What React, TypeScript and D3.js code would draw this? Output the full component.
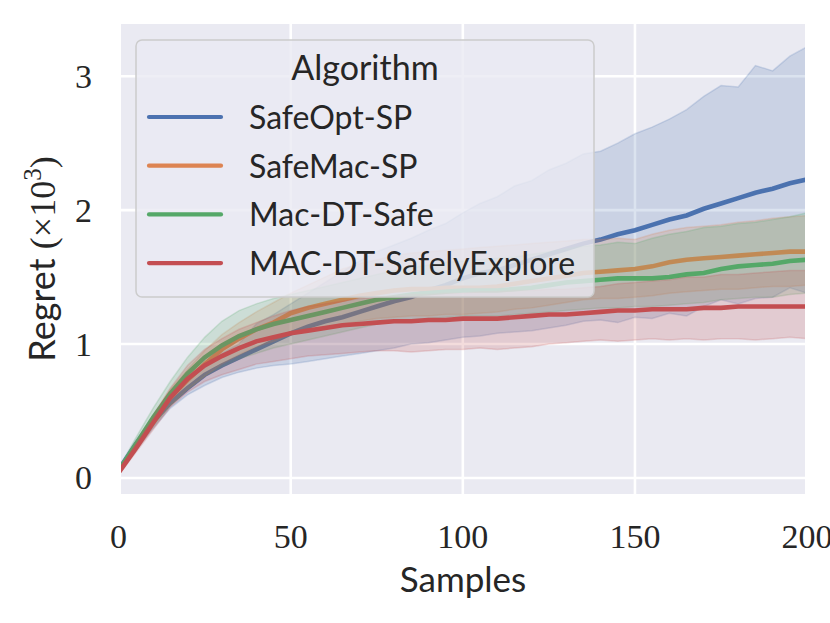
import React from "react";
import * as d3 from "d3";

// samples 0..200 in steps of 5
const samples = d3.range(0, 201, 5);

const algorithms = ["SafeOpt-SP", "SafeMac-SP", "Mac-DT-Safe", "MAC-DT-SafelyExplore"];
const colors = ["#4C72B0", "#DD8452", "#55A868", "#C44E52"];

// regret (x10^3), mean and confidence band per algorithm
const safeOptMean = [0.06, 0.25, 0.42, 0.56, 0.67, 0.77, 0.84, 0.9, 0.96, 1.02, 1.08, 1.13, 1.17, 1.2, 1.24, 1.28, 1.32, 1.35, 1.4, 1.44, 1.49, 1.53, 1.55, 1.59, 1.63, 1.67, 1.71, 1.75, 1.78, 1.82, 1.85, 1.89, 1.93, 1.96, 2.01, 2.05, 2.09, 2.13, 2.16, 2.2, 2.23];
const safeOptLow = [0.04, 0.21, 0.37, 0.52, 0.62, 0.69, 0.75, 0.79, 0.82, 0.84, 0.85, 0.87, 0.89, 0.91, 0.93, 0.95, 0.97, 1.0, 1.01, 1.03, 1.05, 1.06, 1.08, 1.09, 1.1, 1.12, 1.14, 1.17, 1.18, 1.16, 1.2, 1.19, 1.23, 1.21, 1.28, 1.33, 1.3, 1.34, 1.35, 1.42, 1.38];
const safeOptHigh = [0.08, 0.28, 0.46, 0.62, 0.74, 0.85, 0.93, 1.0, 1.15, 1.22, 1.3, 1.38, 1.46, 1.54, 1.62, 1.69, 1.74, 1.79, 1.85, 1.9, 1.98, 2.05, 2.1, 2.18, 2.22, 2.3, 2.35, 2.42, 2.44, 2.5, 2.57, 2.62, 2.68, 2.75, 2.85, 2.93, 2.92, 3.08, 3.04, 3.15, 3.22];

const safeMacMean = [0.05, 0.24, 0.43, 0.6, 0.73, 0.85, 0.96, 1.04, 1.11, 1.16, 1.23, 1.27, 1.3, 1.33, 1.36, 1.38, 1.4, 1.41, 1.41, 1.42, 1.42, 1.42, 1.43, 1.45, 1.47, 1.49, 1.51, 1.53, 1.54, 1.55, 1.56, 1.58, 1.61, 1.63, 1.64, 1.65, 1.66, 1.67, 1.68, 1.69, 1.69];
const safeMacLow = [0.03, 0.21, 0.39, 0.54, 0.66, 0.76, 0.85, 0.92, 0.98, 1.02, 1.07, 1.1, 1.13, 1.15, 1.17, 1.19, 1.2, 1.21, 1.21, 1.22, 1.22, 1.23, 1.24, 1.26, 1.27, 1.29, 1.31, 1.33, 1.34, 1.34, 1.35, 1.36, 1.38, 1.39, 1.4, 1.41, 1.41, 1.42, 1.43, 1.43, 1.44];
const safeMacHigh = [0.07, 0.27, 0.47, 0.66, 0.81, 0.95, 1.07, 1.16, 1.24, 1.31, 1.38, 1.44, 1.5, 1.56, 1.6, 1.63, 1.66, 1.68, 1.69, 1.7, 1.71, 1.72, 1.73, 1.74, 1.75, 1.76, 1.77, 1.78, 1.78, 1.79, 1.78, 1.82, 1.85, 1.87, 1.88, 1.89, 1.91, 1.92, 1.94, 1.95, 1.96];

const macDtMean = [0.05, 0.25, 0.45, 0.63, 0.78, 0.9, 0.99, 1.06, 1.11, 1.15, 1.18, 1.21, 1.24, 1.27, 1.3, 1.33, 1.35, 1.37, 1.38, 1.39, 1.4, 1.4, 1.4, 1.41, 1.42, 1.44, 1.46, 1.47, 1.48, 1.49, 1.49, 1.49, 1.5, 1.52, 1.53, 1.56, 1.58, 1.59, 1.6, 1.62, 1.63];
const macDtLow = [0.03, 0.2, 0.38, 0.54, 0.66, 0.76, 0.83, 0.89, 0.93, 0.97, 1.0, 1.03, 1.06, 1.09, 1.12, 1.15, 1.17, 1.18, 1.19, 1.2, 1.21, 1.21, 1.21, 1.22, 1.23, 1.24, 1.25, 1.26, 1.27, 1.27, 1.28, 1.28, 1.29, 1.3, 1.31, 1.33, 1.34, 1.35, 1.35, 1.37, 1.38];
const macDtHigh = [0.07, 0.3, 0.52, 0.72, 0.9, 1.05, 1.17, 1.25, 1.3, 1.34, 1.37, 1.4, 1.43, 1.46, 1.49, 1.52, 1.55, 1.57, 1.59, 1.61, 1.62, 1.63, 1.64, 1.65, 1.67, 1.69, 1.71, 1.73, 1.74, 1.76, 1.75, 1.79, 1.82, 1.84, 1.87, 1.88, 1.9, 1.91, 1.93, 1.95, 1.98];

const macExploreMean = [0.04, 0.22, 0.41, 0.6, 0.74, 0.84, 0.91, 0.97, 1.02, 1.05, 1.08, 1.1, 1.12, 1.14, 1.15, 1.16, 1.17, 1.17, 1.18, 1.18, 1.19, 1.19, 1.19, 1.2, 1.21, 1.22, 1.22, 1.23, 1.24, 1.25, 1.25, 1.26, 1.26, 1.26, 1.27, 1.27, 1.28, 1.28, 1.28, 1.28, 1.28];
const macExploreLow = [0.02, 0.19, 0.36, 0.53, 0.64, 0.72, 0.77, 0.81, 0.85, 0.87, 0.89, 0.91, 0.92, 0.93, 0.94, 0.95, 0.95, 0.94, 0.95, 0.96, 0.96, 0.97, 0.96, 0.97, 0.98, 1.0, 1.01, 1.02, 1.03, 1.02, 1.03, 1.04, 1.03, 1.04, 1.03, 1.04, 1.04, 1.03, 1.04, 1.05, 1.04];
const macExploreHigh = [0.06, 0.26, 0.46, 0.67, 0.84, 0.96, 1.04, 1.11, 1.16, 1.21, 1.25, 1.28, 1.3, 1.32, 1.34, 1.35, 1.36, 1.37, 1.37, 1.38, 1.38, 1.39, 1.39, 1.4, 1.4, 1.41, 1.41, 1.42, 1.43, 1.45, 1.46, 1.47, 1.48, 1.5, 1.5, 1.52, 1.52, 1.53, 1.54, 1.55, 1.55];

const means = [safeOptMean, safeMacMean, macDtMean, macExploreMean];
const lows = [safeOptLow, safeMacLow, macDtLow, macExploreLow];
const highs = [safeOptHigh, safeMacHigh, macDtHigh, macExploreHigh];

const xTicks = [0, 50, 100, 150, 200];
const yTicks = [0, 1, 2, 3];

const WIDTH = 830;
const HEIGHT = 623;
const PLOT = { left: 121, right: 805, top: 24, bottom: 494 };

const SANS = "Lato, 'Liberation Sans', sans-serif";
const SERIF = "'Liberation Serif', 'DejaVu Serif', serif";

const App = () => {
  const x = d3.scaleLinear().domain([0.7, 199.4]).range([PLOT.left, PLOT.right]);
  const y = d3.scaleLinear().domain([-0.12, 3.39]).range([PLOT.bottom, PLOT.top]);

  const line = d3
    .line<number>()
    .x((_, i) => x(samples[i]))
    .y((d) => y(d));

  const band = (lo: number[], hi: number[]) =>
    d3
      .area<number>()
      .x((_, i) => x(samples[i]))
      .y0((_, i) => y(lo[i]))
      .y1((_, i) => y(hi[i]))(samples);

  const legend = { x: 136, y: 40, w: 458, h: 257 };

  return (
    <svg width={WIDTH} height={HEIGHT} style={{ position: "absolute", left: 0, top: 0, background: "white" }}>
      <defs>
        <clipPath id="plot-clip">
          <rect x={PLOT.left} y={PLOT.top} width={PLOT.right - PLOT.left} height={PLOT.bottom - PLOT.top} />
        </clipPath>
      </defs>
      <rect x={PLOT.left} y={PLOT.top} width={PLOT.right - PLOT.left} height={PLOT.bottom - PLOT.top} fill="#EAEAF2" />

      {/* grid */}
      <g clipPath="url(#plot-clip)">
        {xTicks.map((t) => (
          <line key={"gx" + t} x1={x(t)} x2={x(t)} y1={PLOT.top} y2={PLOT.bottom} stroke="white" strokeWidth={2.6} />
        ))}
        {yTicks.map((t) => (
          <line key={"gy" + t} x1={PLOT.left} x2={PLOT.right} y1={y(t)} y2={y(t)} stroke="white" strokeWidth={2.6} />
        ))}
      </g>

      {/* lines and bands, seaborn order: line then its band */}
      <g clipPath="url(#plot-clip)">
        {algorithms.map((name, k) => (
          <g key={name}>
            <path d={line(means[k]) ?? ""} fill="none" stroke={colors[k]} strokeWidth={4.6} />
            <path
              d={band(lows[k], highs[k]) ?? ""}
              fill={colors[k]}
              fillOpacity={0.2}
              stroke={colors[k]}
              strokeOpacity={0.2}
              strokeWidth={1.5}
            />
          </g>
        ))}
      </g>

      {/* tick labels */}
      {xTicks.map((t) => (
        <text key={"tx" + t} x={x(t)} y={548} textAnchor="middle" fontFamily={SERIF} fontSize={34} fill="#262626">
          {t}
        </text>
      ))}
      {yTicks.map((t) => (
        <text key={"ty" + t} x={92} y={y(t)} dy="0.34em" textAnchor="end" fontFamily={SERIF} fontSize={34} fill="#262626">
          {t}
        </text>
      ))}

      {/* axis labels */}
      <text x={463} y={592} textAnchor="middle" fontFamily={SANS} fontSize={35} fill="#262626">
        Samples
      </text>
      <text transform="translate(55,259) rotate(-90)" textAnchor="middle" fontSize={36} fill="#262626">
        <tspan fontFamily={SANS}>Regret </tspan>
        <tspan fontFamily={SERIF}>(×10</tspan>
        <tspan fontFamily={SERIF} fontSize={25} dy={-14}>3</tspan>
        <tspan fontFamily={SERIF} dy={14}>)</tspan>
      </text>

      {/* legend */}
      <rect
        x={legend.x}
        y={legend.y}
        width={legend.w}
        height={legend.h}
        rx={6}
        fill="#EAEAF2"
        fillOpacity={0.8}
        stroke="#CCCCCC"
        strokeWidth={1.5}
      />
      <text x={legend.x + legend.w / 2} y={80} textAnchor="middle" fontFamily={SANS} fontSize={34} fill="#262626">
        Algorithm
      </text>
      {algorithms.map((name, k) => (
        <g key={"lg" + name} transform={`translate(0, ${117 + k * 48.7})`}>
          <line x1={149} x2={221} y1={0} y2={0} stroke={colors[k]} strokeWidth={4.2} strokeLinecap="round" />
          <text x={249} y={12} fontFamily={SANS} fontSize={32} fill="#262626">
            {name}
          </text>
        </g>
      ))}
    </svg>
  );
};

export default App;
